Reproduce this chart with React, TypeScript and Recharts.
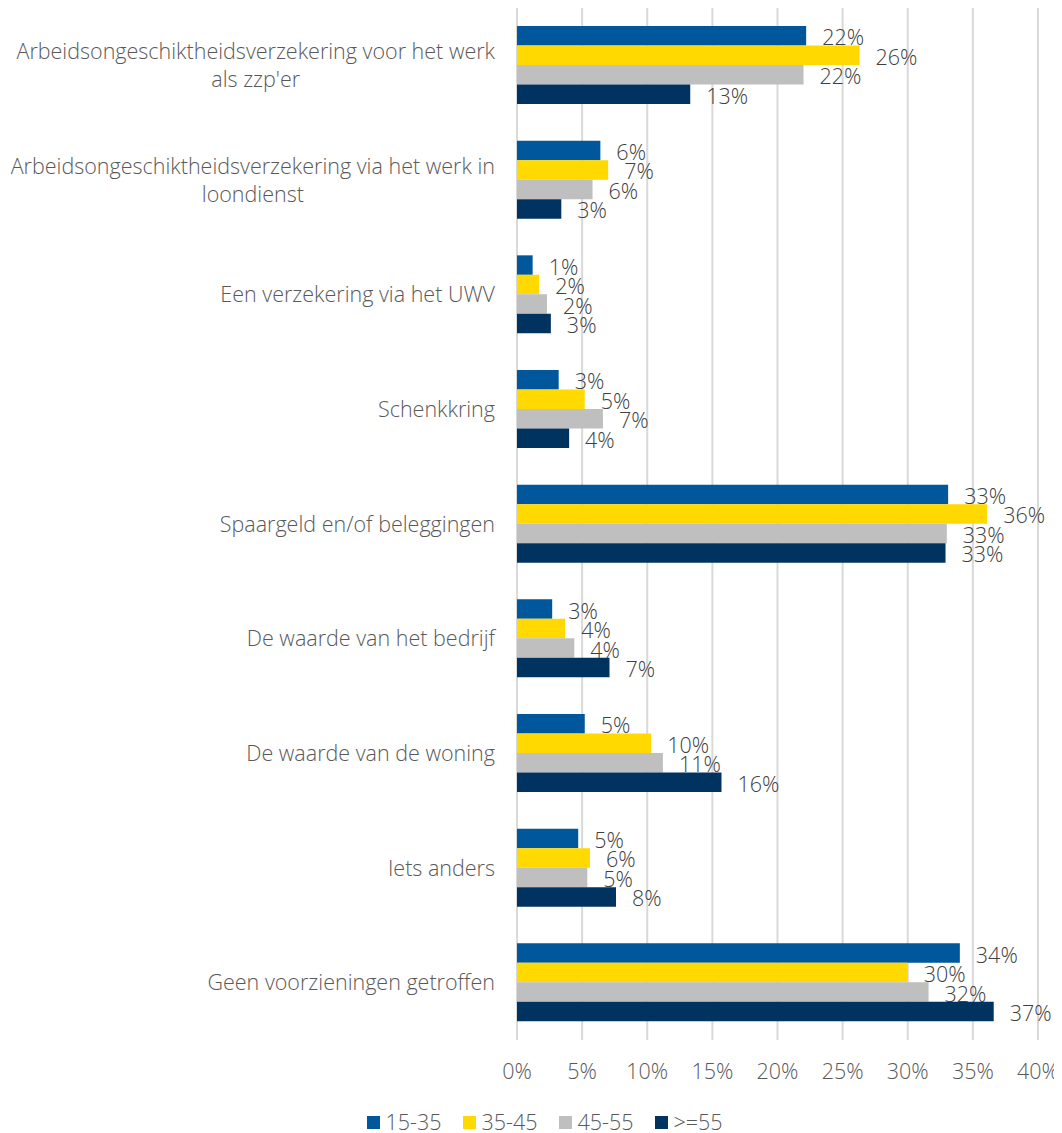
import { Bar, BarChart, CartesianGrid, LabelList, XAxis, YAxis } from 'recharts';

const categories = [
  "Arbeidsongeschiktheidsverzekering voor het werk als zzp'er",
  'Arbeidsongeschiktheidsverzekering via het werk in loondienst',
  'Een verzekering via het UWV',
  'Schenkkring',
  'Spaargeld en/of beleggingen',
  'De waarde van het bedrijf',
  'De waarde van de woning',
  'Iets anders',
  'Geen voorzieningen getroffen',
];

const age1535 = [22.2, 6.4, 1.2, 3.2, 33.1, 2.7, 5.2, 4.7, 34.0];
const age3545 = [26.3, 7.0, 1.7, 5.2, 36.1, 3.7, 10.3, 5.6, 30.0];
const age4555 = [22.0, 5.8, 2.3, 6.6, 33.0, 4.4, 11.2, 5.4, 31.6];
const age55plus = [13.3, 3.4, 2.6, 4.0, 32.9, 7.1, 15.7, 7.6, 36.6];

const xTicks = [0, 5, 10, 15, 20, 25, 30, 35, 40];

const series = [
  { key: 'a', name: '15-35', color: '#00579C', values: age1535 },
  { key: 'b', name: '35-45', color: '#FFD900', values: age3545 },
  { key: 'c', name: '45-55', color: '#BFBFBF', values: age4555 },
  { key: 'd', name: '>=55', color: '#003360', values: age55plus },
];

const data = categories.map((name, i) => {
  const row: Record<string, string | number> = { name };
  series.forEach((s) => (row[s.key] = s.values[i]));
  return row;
});

const FONT = '"Open Sans", "Noto Sans", sans-serif';
const FONT_SIZE = 21.5;
const WEIGHT = 300;

let ctx: CanvasRenderingContext2D | null = null;
const measure = (t: string) => {
  if (!ctx) ctx = document.createElement('canvas').getContext('2d');
  if (!ctx) return t.length * 10;
  ctx.font = `${WEIGHT} ${FONT_SIZE}px "Open Sans"`;
  return ctx.measureText(t).width;
};

const wrap = (text: string, maxW: number) => {
  const words = text.split(' ');
  const lines: string[] = [];
  let cur = '';
  words.forEach((w) => {
    const next = cur ? cur + ' ' + w : w;
    if (cur && measure(next) > maxW) {
      lines.push(cur);
      cur = w;
    } else cur = next;
  });
  if (cur) lines.push(cur);
  return lines;
};

const CategoryTick = ({ x, y, payload }: any) => {
  const lines = wrap(payload.value, 492);
  const widths = lines.map(measure);
  const block = Math.max(...widths);
  const multi = lines.length > 1;
  const lh = 28;
  const cx = multi ? x - block / 2 : x;
  return (
    <text
      x={cx}
      y={y}
      textAnchor={multi ? 'middle' : 'end'}
      fill="#595959"
      fontSize={FONT_SIZE}
      fontWeight={WEIGHT}
      fontFamily={FONT}
    >
      {lines.map((l, i) => (
        <tspan key={i} x={cx} y={y + (i - (lines.length - 1) / 2) * lh} dy="0.35em">
          {l}
        </tspan>
      ))}
    </text>
  );
};

// value label right of the bar, a touch below centre like the original
const ValueLabel = ({ x, y, width, height, value }: any) => (
  <text
    x={x + width + 16}
    y={y + height / 2 + 2}
    dy="0.35em"
    fill="#404040"
    fontSize={FONT_SIZE}
    fontFamily={FONT}
    fontWeight={WEIGHT}
  >
    {`${Math.round(Number(value))}%`}
  </text>
);

export default function App() {
  return (
    <div style={{ position: 'relative', width: 1054, height: 1125 }}>
      <BarChart
        width={1054}
        height={1100}
        data={data}
        layout="vertical"
        margin={{ top: 0, right: 24, left: 0, bottom: 0 }}
        barGap={0}
        barSize={19.5}
      >
        <CartesianGrid horizontal={false} stroke="#d9d9d9" strokeWidth={2} />
        <XAxis
          type="number"
          domain={[0, 40]}
          ticks={xTicks}
          tickFormatter={(v) => `${v}%`}
          axisLine={false}
          tickLine={false}
          tickSize={0}
          tickMargin={24}
          height={68}
          tick={{ fill: '#595959', fontSize: FONT_SIZE, fontFamily: FONT, fontWeight: WEIGHT }}
          interval={0}
        />
        <YAxis
          type="category"
          dataKey="name"
          width={509}
          axisLine={false}
          tickLine={false}
          tickSize={0}
          tickMargin={22}
          tick={<CategoryTick />}
          interval={0}
        />
        {series.map((s) => (
          <Bar key={s.key} dataKey={s.key} name={s.name} fill={s.color} isAnimationActive={false}>
            <LabelList dataKey={s.key} content={<ValueLabel />} />
          </Bar>
        ))}
      </BarChart>
      <div
        style={{
          position: 'absolute',
          top: 1104,
          left: 0,
          width: 1062,
          paddingLeft: 12,
          boxSizing: 'border-box',
          display: 'flex',
          justifyContent: 'center',
          gap: 22,
          fontFamily: FONT,
          fontWeight: WEIGHT,
          fontSize: FONT_SIZE,
          lineHeight: '20px',
          color: '#595959',
        }}
      >
        {series.map((s) => (
          <div key={s.key} style={{ display: 'flex', alignItems: 'center' }}>
            <span style={{ width: 13, height: 13, background: s.color, display: 'inline-block', marginRight: 5 }} />
            <span>{s.name}</span>
          </div>
        ))}
      </div>
    </div>
  );
}
